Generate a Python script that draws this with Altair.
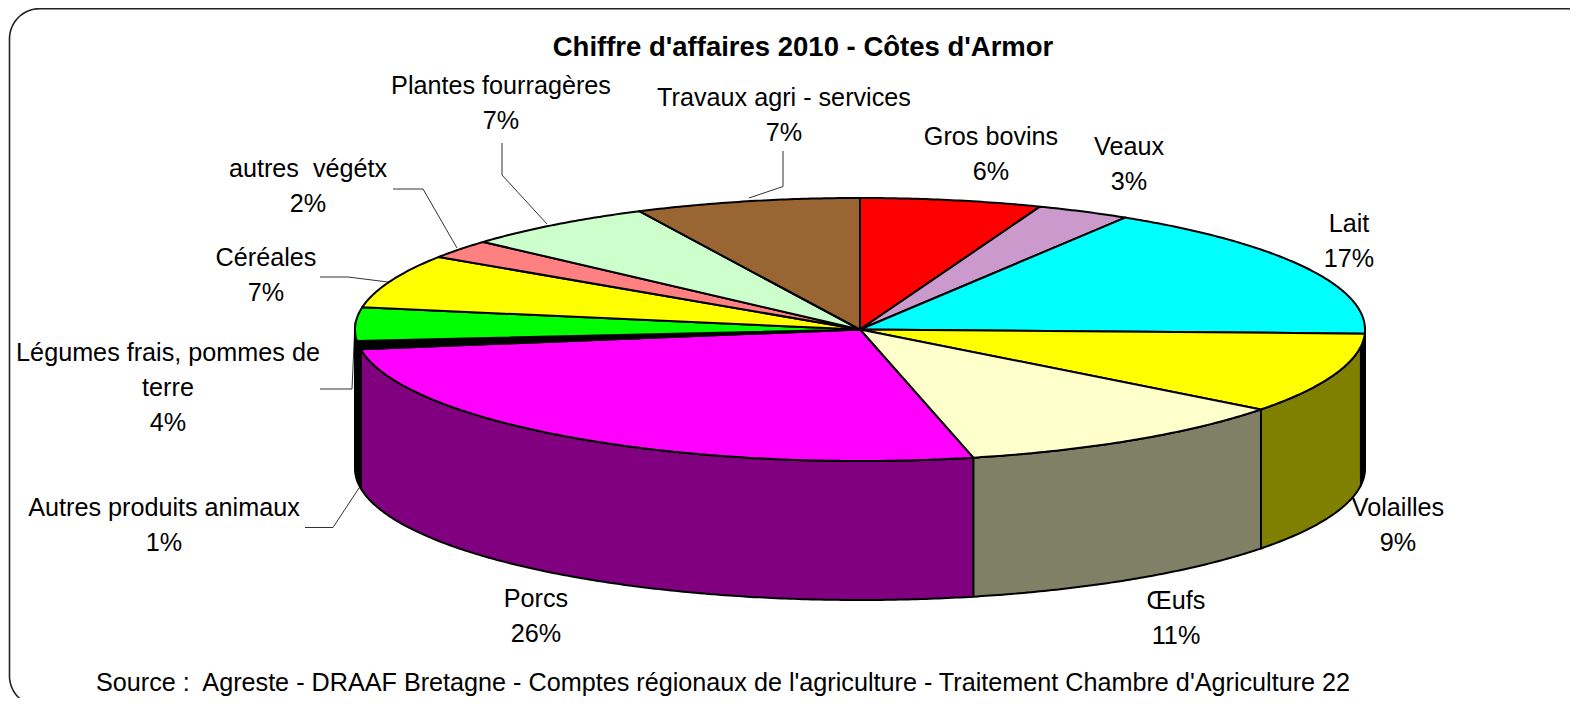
import math
import altair as alt

# --- values ---
categories = ["Gros bovins", "Veaux", "Lait", "Volailles", "Œufs", "Porcs",
              "Autres produits animaux", "Légumes frais, pommes de terre", "Céréales",
              "autres\u00a0 végétx", "Plantes fourragères", "Travaux agri - services"]
shares = [5.8, 3.0, 16.7, 9.9, 11.0, 26.2, 1.0, 4.1, 6.6, 2.3, 6.2, 7.2]
percent_labels = ["6%", "3%", "17%", "9%", "11%", "26%", "1%", "4%", "7%", "2%", "7%", "7%"]
top_colors = ["#ff0000", "#cc99cc", "#00ffff", "#ffff00", "#ffffcc", "#ff00ff",
              "#000000", "#00ff00", "#ffff00", "#ff8080", "#ccffcc", "#996633"]
wall_colors = ["#800000", "#664d66", "#000000", "#808000", "#808066", "#800080",
               "#000000", "#008000", "#808000", "#804040", "#668066", "#4d3319"]
title_text = "Chiffre d'affaires 2010 - Côtes d'Armor"
source_text = "Source :\u00a0 Agreste - DRAAF Bretagne - Comptes régionaux de l'agriculture - Traitement Chambre d'Agriculture 22"

# --- layout ---
CX, CY, RX, RY, DEPTH = 860, 329.5, 505, 131.5, 139
RIGHT_BAND = 5.5
FONT = "Liberation Sans"
FS = 25.2
TITLE_FS = 27.5
label_lines = {
    "Légumes frais, pommes de terre": ["Légumes frais, pommes de", "terre"],
}
label_x = [991, 1129, 1349, 1398, 1176, 536, 164, 168, 266, 308, 501, 784]
label_y = [137, 147, 224, 508, 601, 599, 508, 353, 258, 169, 85.5, 97.6]
LINE_GAP = 35
leaders = [
    [(783, 151), (783, 186.5), (749, 198)],
    [(502, 143), (502, 175), (547, 224)],
    [(393, 189), (423, 189), (457, 248)],
    [(320, 277), (348, 277), (388, 282)],
    [(320, 389), (352, 389), (355, 322)],
    [(305, 527.5), (333, 527.5), (359, 488)],
]


def pt(a, dy=0.0):
    r = math.radians(a)
    return [CX + RX * math.sin(r), CY - RY * math.cos(r) + dy]


def arc(a0, a1, dy=0.0):
    n = max(2, int(abs(a1 - a0) / 0.5) + 1)
    return [pt(a0 + (a1 - a0) * i / n, dy) for i in range(n + 1)]


def feature(geom_type, coords, fill="none"):
    return {"type": "Feature", "properties": {"fill": fill},
            "geometry": {"type": geom_type, "coordinates": coords}}


angles = [0.0]
for s in shares:
    angles.append(angles[-1] + s * 3.6)

tops, walls = [], []
for i, name in enumerate(categories):
    a0, a1 = angles[i], angles[i + 1]
    tops.append(feature("Polygon", [[[CX, CY]] + arc(a0, a1) + [[CX, CY]]], top_colors[i]))
    w0, w1 = max(a0, 90), min(a1, 270)
    if name == "Volailles":
        w0 += RIGHT_BAND
    if name == "Lait":
        w1 += RIGHT_BAND
    if w1 > w0:
        ring = arc(w0, w1) + arc(w1, w0, DEPTH)
        walls.append(feature("Polygon", [ring + [ring[0]]], wall_colors[i]))


def corner(cx, cy, r, a0, a1):
    return [[cx + r * math.cos(math.radians(a0 + (a1 - a0) * k / 16)),
             cy + r * math.sin(math.radians(a0 + (a1 - a0) * k / 16))] for k in range(17)]


frame_pts = [[1578, 10.5], [1568, 8.7]] + corner(39.5, 38.7, 30, -90, -180) + corner(39.5, 676, 30, 180, 110)

text_rows = []
for i, name in enumerate(categories):
    lines = label_lines.get(name, [name]) + [percent_labels[i]]
    for k, line in enumerate(lines):
        text_rows.append({"x": label_x[i], "y": label_y[i] + k * LINE_GAP, "t": line})

projection = alt.Projection(type="identity", scale=1, translate=[-8, -8])


def shapes(features, **mark):
    return alt.Chart(alt.Data(values=features)).mark_geoshape(**mark).project(**projection.to_dict())


frame = shapes([feature("LineString", frame_pts)], fill=None, filled=False, stroke="#222222", strokeWidth=1.6)
wall_layer = shapes(walls, stroke="black", strokeWidth=2, strokeJoin="round").encode(
    fill=alt.Fill("properties.fill:N", scale=None))
top_layer = shapes(tops, stroke="black", strokeWidth=2, strokeJoin="round").encode(
    fill=alt.Fill("properties.fill:N", scale=None))
leader_layer = shapes([feature("LineString", [list(p) for p in l]) for l in leaders],
                      fill=None, filled=False, stroke="#333333", strokeWidth=1)

labels = alt.Chart(alt.Data(values=text_rows)).mark_text(
    font=FONT, fontSize=FS, color="black", align="center", baseline="middle"
).encode(longitude="x:Q", latitude="y:Q", text="t:N").project(**projection.to_dict())

title = alt.Chart(alt.Data(values=[{"x": 803, "y": 47.5, "t": title_text}])).mark_text(
    font=FONT, fontSize=TITLE_FS, fontWeight="bold", color="black", align="center", baseline="middle"
).encode(longitude="x:Q", latitude="y:Q", text="t:N").project(**projection.to_dict())

source = alt.Chart(alt.Data(values=[{"x": 723, "y": 683, "t": source_text}])).mark_text(
    font=FONT, fontSize=FS, color="black", align="center", baseline="middle"
).encode(longitude="x:Q", latitude="y:Q", text="t:N").project(**projection.to_dict())

chart = alt.layer(frame, leader_layer, wall_layer, top_layer, labels, title, source).properties(
    width=1562, height=690, padding=0, background="white",
    autosize=alt.AutoSizeParams(type="none"),
).configure_view(stroke=None)

chart.save("out.html", embed_options={"renderer": "svg", "actions": False})
